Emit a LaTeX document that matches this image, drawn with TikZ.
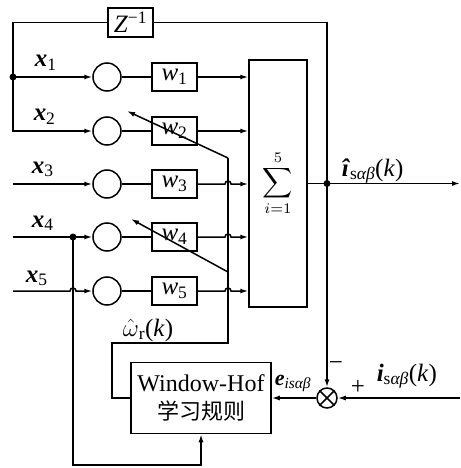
\documentclass[tikz,border=0pt]{standalone}
\usepackage{graphicx}
\usepackage{fontspec}
\setmainfont{Liberation Serif}
\newfontfamily\cjk{Noto Sans CJK SC}
\usetikzlibrary{arrows.meta}
\begin{document}
\begin{tikzpicture}[x=1pt,y=-1pt,line width=1.5pt,
  arr/.style={-{Latex[length=8pt,width=5pt]}},
  circ/.style={circle,draw,minimum size=28pt,inner sep=0pt},
  wbox/.style={draw,minimum width=45pt,minimum height=28pt,inner sep=0pt,font=\fontsize{25}{26}\selectfont},
  lab/.style={font=\fontsize{25}{26}\selectfont,inner sep=0pt},
  dot/.style={circle,fill,inner sep=0pt,minimum size=7pt}]
\useasboundingbox (0,0) rectangle (460,468);
% delay box
\node[draw,minimum width=45pt,minimum height=29pt,inner sep=0pt,font=\fontsize{25}{26}\selectfont] (z) at (130.5,22.5) {\textit{Z}\textsuperscript{−1}};
% circles and weight boxes
\foreach \i/\y in {1/77,2/131,3/184,4/237,5/291}{
  \node[circ] (c\i) at (107,\y) {};
  \node[wbox] (w\i) at (174.5,\y) {\textit{w}\textsubscript{\i}};
  \draw (c\i.east) -- (w\i.west);
}
% sum box
\node[draw,minimum width=58pt,minimum height=247pt,inner sep=0pt] (sum) at (278,183.5) {};
\node[inner sep=0pt] (sig) at (278,183) {\scalebox{2.1}{$\displaystyle\sum_{i=1}^{5}$}};
% learning box
\node[draw,minimum width=140pt,minimum height=71pt,inner sep=0pt,align=center,font=\fontsize{24}{28}\selectfont] (whb) at (201,398) {Window-Hof\\{\cjk\fontsize{22}{28}\selectfont 学习规则}};
% comparator
\node[circle,draw,minimum size=20pt,inner sep=0pt] (ox) at (327,398) {};
\draw (ox.north west) -- (ox.south east) (ox.north east) -- (ox.south west);
% coordinates
\coordinate (L1) at (13,77);
\coordinate (L2) at (13,131);
\coordinate (I3) at (13,184);
\coordinate (I4) at (13,237);
\coordinate (I5) at (13,291);
\coordinate (D4) at (73,237);
\coordinate (Bt) at (73,465);
\coordinate (J) at (327,183.5);
\coordinate (out) at (460,183.5);
\coordinate (R) at (460,398);
\coordinate (T) at (228,158);
\coordinate (B) at (228,343);
\coordinate (K) at (112,398);
\coordinate (A2) at (127,111);
\coordinate (M4) at (228,272);
\coordinate (A4) at (131,219);
% inputs
\draw[arr] (z.west) -| (L2) -- (c2.west);
\draw[arr] (L1) -- (c1.west);
\node[dot] at (L1) {};
\draw[arr] (I3) -- (c3.west);
\draw[arr] (I4) -- (c4.west);
\node[dot] at (D4) {};
\draw[arr] (I5) -- ([xshift=-3pt]D4 |- I5) arc[start angle=180,end angle=0,radius=3pt] -- (c5.west);
% weights to sum
\draw[arr] (w1.east) -- (w1.east -| sum.west);
\draw[arr] (w2.east) -- (w2.east -| sum.west);
\foreach \i in {3,4,5}{
  \draw[arr] (w\i.east) -- ([xshift=-3pt]T |- w\i.east) arc[start angle=180,end angle=0,radius=3pt] -- (w\i.east -| sum.west);
}
% output and feedback
\draw[arr] (sum.east) -- (out);
\draw (z.east) -| (J);
\draw[arr] (J) -- (ox.north);
\node[dot] at (J) {};
\draw[arr] (R) -- (ox.east);
\draw[arr] (ox.west) -- (whb.east |- ox.west);
% weight adaptation
\draw (T) -- (B) -| (K) -- (whb.west);
\draw[arr] (T) -- (A2);
\draw[arr] (M4) -- (A4);
\draw[arr] (D4) -- (Bt) -| (whb.south);
% labels
\node[lab,anchor=base west] (lx1) at (34,67) {\textbf{\textit{x}}\textsubscript{1}};
\node[lab,anchor=base west] (lx2) at (33,121) {\textbf{\textit{x}}\textsubscript{2}};
\node[lab,anchor=base west] (lx3) at (31,173) {\textbf{\textit{x}}\textsubscript{3}};
\node[lab,anchor=base west] (lx4) at (31,227) {\textbf{\textit{x}}\textsubscript{4}};
\node[lab,anchor=base west] (lx5) at (25,282) {\textbf{\textit{x}}\textsubscript{5}};
\node[lab,anchor=base west] (lout) at (341,176) {\textbf{\textit{î}}\textsubscript{s\textit{αβ}}(\textit{k})};
\node[lab,anchor=base west] (lin) at (376,381) {\textbf{\textit{i}}\textsubscript{s\textit{αβ}}(\textit{k})};
\node[lab,anchor=base west,font=\fontsize{22}{24}\selectfont] (le) at (274,385) {\textbf{\textit{e}}\textsubscript{\textit{is}\textit{αβ}}};
\node[lab] (lminus) at (336,366) {−};
\node[lab] (lplus) at (358,387) {+};
\node[lab,anchor=base west] (lw) at (122,336) {$\hat{\omega}$\textsubscript{r}(\textit{k})};
\end{tikzpicture}
\end{document}
